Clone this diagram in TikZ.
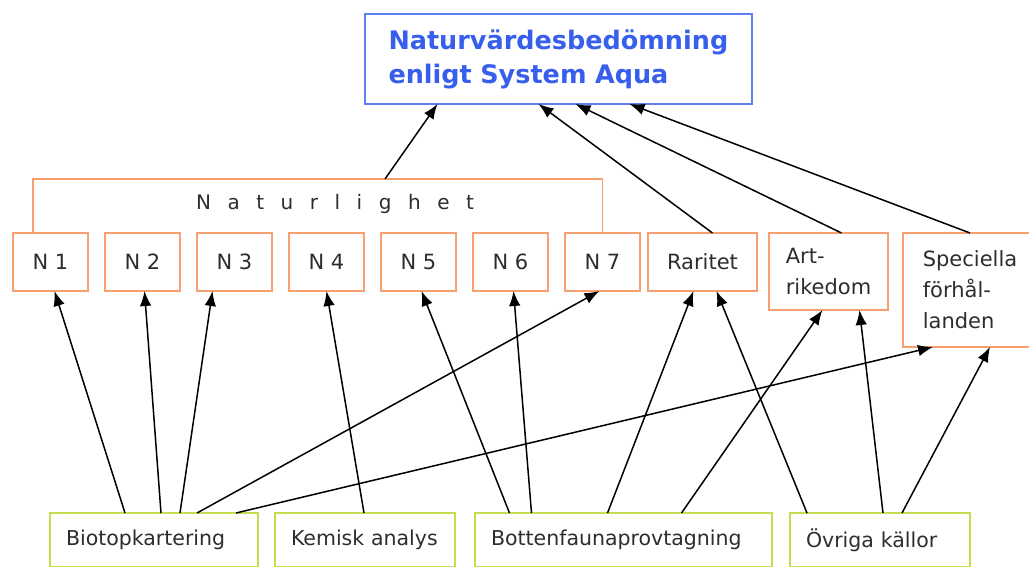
\documentclass[tikz,border=0pt]{standalone}
\usepackage{fontspec}
\setmainfont{DejaVu Sans}
\newfontfamily\spacedfont[WordSpace=2.6]{DejaVu Sans}
\usetikzlibrary{positioning,arrows.meta}

\definecolor{boxorange}{RGB}{245,160,110}
\definecolor{boxgreen}{RGB}{200,220,80}
\definecolor{titleblue}{RGB}{55,95,235}
\definecolor{textgray}{RGB}{45,45,45}

\begin{document}
\begin{tikzpicture}[
    x=1pt, y=-1pt,
    outer sep=0pt,
    node distance = 17pt and 17pt,
    toptitle/.style = {draw=titleblue!80,
                       line width=1.3pt,
                       minimum width=387pt,
                       minimum height=90pt,
                       inner xsep=23pt,
                       text width=340pt,
                       align=left,
                       text=titleblue,
                       font=\fontsize{25.5}{34}\selectfont\bfseries},
    nbox/.style     = {draw=boxorange,
                       line width=1.8pt,
                       minimum width=75pt,
                       minimum height=58pt,
                       text=textgray,
                       font=\fontsize{21}{31}\selectfont},
    wbox/.style     = {nbox,
                       align=left},
    srcbox/.style   = {draw=boxgreen,
                       line width=1.8pt,
                       minimum height=54pt,
                       inner xsep=16pt,
                       align=left,
                       text=textgray,
                       font=\fontsize{20.5}{24}\selectfont},
    arr/.style      = {line width=1.5pt,
                       -{Latex[length=15pt,width=11.5pt]}}
]
\useasboundingbox (0,0) rectangle (1029,567);

% target
\node (aqua) [toptitle] at (558.5,59)
    {Naturvärdesbedömning\\enligt System Aqua};

% criteria
\node (n1) [nbox, anchor=north west] at (13,233) {N 1};
\node (n2) [nbox, right=of n1] {N 2};
\node (n3) [nbox, right=of n2] {N 3};
\node (n4) [nbox, right=of n3] {N 4};
\node (n5) [nbox, right=of n4] {N 5};
\node (n6) [nbox, right=of n5] {N 6};
\node (n7) [nbox, right=of n6] {N 7};
\node (rar) [nbox, minimum width=109pt, right=8pt of n7] {Raritet};
\node (art) [wbox, minimum width=119pt, minimum height=77pt,
             right=12pt of rar.north east, anchor=north west] {Art-\\rikedom};
\node (spec) [wbox, minimum width=134pt, minimum height=114pt,
              right=15pt of art.north east, anchor=north west]
    {Speciella\\förhål-\\landen};

% Naturlighet bracket
\draw[boxorange, line width=1.8pt] ([xshift=20pt]n1.north west)
    -- ++(0,-54) coordinate (brk0) -| (n7.north);
\coordinate (brk) at (385,179);
\node (natur) at (335,204) {\spacedfont\fontsize{20}{24}\selectfont
    \color{textgray}N a t u r l i g h e t};

% sources
\node (bio) [srcbox, text width=176pt, anchor=north west] at (50,513)
    {Biotopkartering};
\node (kem) [srcbox, text width=148pt, right=of bio] {Kemisk analys};
\node (bot) [srcbox, text width=265pt, right=20pt of kem]
    {Bottenfaunaprovtagning};
\node (ovr) [srcbox, text width=148pt, right=18pt of bot] {Övriga källor};

% up to the target
\draw[arr] (brk) -- ([xshift=-121pt]aqua.south);
\draw[arr] ([xshift=10pt]rar.north) -- ([xshift=-20pt]aqua.south);
\draw[arr] ([xshift=13pt]art.north) -- ([xshift=17pt]aqua.south);
\draw[arr] ([xshift=0pt]spec.north) -- ([xshift=71pt]aqua.south);

% Biotopkartering
\draw[arr] ([xshift=-29pt]bio.north) -- ([xshift=4pt]n1.south);
\draw[arr] ([xshift=7pt]bio.north) -- ([xshift=2pt]n2.south);
\draw[arr] ([xshift=26pt]bio.north) -- ([xshift=-22pt]n3.south);
\draw[arr] ([xshift=43pt]bio.north) -- ([xshift=-3pt]n7.south);
\draw[arr] ([xshift=82pt]bio.north) -- ([xshift=-37pt]spec.south);

% Kemisk analys
\draw[arr] ([xshift=-1pt]kem.north) -- (n4.south);

% Bottenfaunaprovtagning
\draw[arr] ([xshift=-114pt]bot.north) -- ([xshift=3pt]n5.south);
\draw[arr] ([xshift=-92pt]bot.north) -- ([xshift=3pt]n6.south);
\draw[arr] ([xshift=-16pt]bot.north) -- ([xshift=-9pt]rar.south);
\draw[arr] ([xshift=58pt]bot.north) -- ([xshift=-6pt]art.south);

% Övriga källor
\draw[arr] ([xshift=-73pt]ovr.north) -- ([xshift=14pt]rar.south);
\draw[arr] ([xshift=3pt]ovr.north) -- ([xshift=31pt]art.south);
\draw[arr] ([xshift=22pt]ovr.north) -- ([xshift=20pt]spec.south);
\end{tikzpicture}
\end{document}
